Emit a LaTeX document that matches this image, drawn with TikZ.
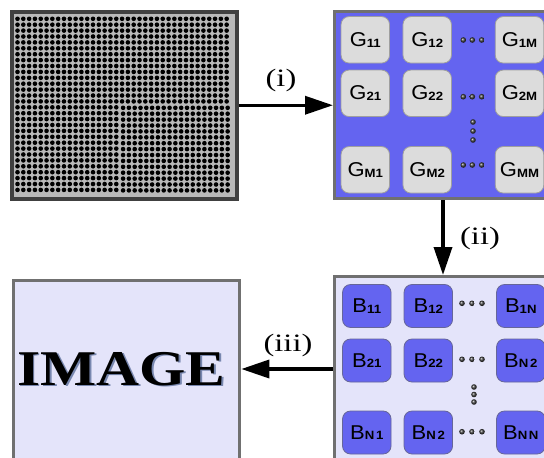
\documentclass[tikz,border=0pt]{standalone}
\usepackage{fontspec}
\usepackage{graphicx}
\setmainfont{Liberation Serif}
\newfontfamily\arialfont{Liberation Sans}
\usetikzlibrary{arrows.meta,shadings}

\definecolor{panelblue}{RGB}{100,100,240}
\definecolor{lavender}{RGB}{228,228,250}
\definecolor{tilegray}{RGB}{220,220,220}
\definecolor{framegray}{RGB}{112,112,112}
\definecolor{gridgray}{RGB}{185,185,185}
\definecolor{griddark}{RGB}{64,64,64}
\definecolor{shadowblue}{RGB}{120,135,175}

% tile caption: large letter followed by a small bold index
\newcommand\tiletext[2]{\scalebox{1.1}[1]{\fontsize{20}{20}\selectfont #1\raisebox{-0.6pt}{\fontsize{12}{12}\selectfont\bfseries #2}}}

\tikzset{
  frame/.style={draw=framegray, line width=3pt, inner sep=0pt, anchor=north west},
  tile/.style={rounded corners=8pt, line width=0.8pt, minimum width=48.5pt, inner sep=0pt, font=\arialfont},
  gtile/.style={tile, draw=gray!75, fill=tilegray, minimum height=46.5pt},
  btile/.style={tile, draw=gray!80!blue, fill=panelblue, minimum height=43pt},
  flow/.style={-{Triangle[length=28pt,width=18pt]}, line width=3.5pt},
  steplabel/.style={inner sep=0pt},
  dot/.style={ball color=gray!45!black, draw=none},
}
\newcommand\steptext[1]{\scalebox{1.3}[1]{\fontsize{25}{25}\selectfont #1}}

\begin{document}
\begin{tikzpicture}[x=1pt, y=-1pt]
\useasboundingbox (0,0) rectangle (544,458);
\clip (0,0) rectangle (544,458);
\fill[white] (0,0) rectangle (544,458);

% ---- sensor array with dot grid ----
\node[draw=griddark, line width=3.5pt, fill=gridgray, inner sep=0pt, anchor=north west,
      minimum width=225pt, minimum height=187pt] (grid) at (10,10) {};
\begin{scope}
  \clip (13,13) rectangle (232,194);
  \foreach \i in {0,...,36}{
    \foreach \j in {0,...,29}{
      \pgfmathsetmacro\dx{(\i>17 && \j>14) ? 1 : 0}
      \pgfmathsetmacro\dy{(\i>17 && \j>14) ? 0.5 : 0}
      \fill[black] (17.5+\i*5.81+\dx, 18.8+\j*5.9+\dy) circle (2.3);
    }
  }
\end{scope}

% ---- grid of G tiles ----
\node[frame, fill=panelblue, minimum width=217pt, minimum height=187pt] (gpanel) at (333,10) {};
\node[gtile] (g11) at (365.3,39.8) {\tiletext{G}{11}};
\node[gtile] (g12) at (427.2,39.8) {\tiletext{G}{12}};
\node[gtile] (g1m) at (519.5,39.8) {\tiletext{G}{1M}};
\node[gtile] (g21) at (365.3,93.3) {\tiletext{G}{21}};
\node[gtile] (g22) at (427.2,93.3) {\tiletext{G}{22}};
\node[gtile] (g2m) at (519.5,93.3) {\tiletext{G}{2M}};
\node[gtile] (gm1) at (365.3,169.8) {\tiletext{G}{M1}};
\node[gtile] (gm2) at (427.2,169.8) {\tiletext{G}{M2}};
\node[gtile] (gmm) at (519.5,169.8) {\tiletext{G}{MM}};
\foreach \y in {40,96.7,165}{
  \foreach \x in {463.3,472.3,481.7}{\shade[dot] (\x,\y) circle (2.8);}
}
\foreach \y in {122,131,140}{\shade[dot] (473,\y) circle (2.8);}

% ---- grid of B tiles ----
\node[frame, fill=lavender, minimum width=217pt, minimum height=200pt] (bpanel) at (333,275) {};
\node[btile] (b11) at (366.8,306) {\tiletext{B}{11}};
\node[btile] (b12) at (428.3,306) {\tiletext{B}{12}};
\node[btile] (b1n) at (520.8,306) {\tiletext{B}{1N}};
\node[btile] (b21) at (366.8,360.5) {\tiletext{B}{21}};
\node[btile] (b22) at (428.3,360.5) {\tiletext{B}{22}};
\node[btile] (bn2a) at (520.8,360.5) {\tiletext{B}{N\hspace{1.5pt}2}};
\node[btile] (bn1) at (366.8,432.5) {\tiletext{B}{N\hspace{1.5pt}1}};
\node[btile] (bn2) at (428.3,432.5) {\tiletext{B}{N\hspace{1.5pt}2}};
\node[btile] (bnn) at (520.8,432.5) {\tiletext{B}{N\hspace{1.5pt}N}};
\foreach \y in {303.3,359.3,431.7}{
  \foreach \x in {462,472,482}{\shade[dot] (\x,\y) circle (2.8);}
}
\foreach \y in {387,394.5,402}{\shade[dot] (474,\y) circle (2.8);}

% ---- reconstructed image ----
\node[frame, fill=lavender, minimum width=226.6pt, minimum height=200pt] (imgbox) at (11.7,279) {};
\node[text=shadowblue] (imgshadow) at (123,370.5)
  {\scalebox{1.19}[1]{\fontsize{50}{50}\selectfont\bfseries IMAGE}};
\node (imgtext) at (121.5,369)
  {\scalebox{1.19}[1]{\fontsize{50}{50}\selectfont\bfseries IMAGE}};

% ---- processing steps ----
\draw[flow] (grid.east) -- (grid.east -| gpanel.west);
\draw[flow] (gpanel.south) -- (gpanel.south |- bpanel.north);
\draw[flow] (imgtext -| bpanel.west) -- (imgtext -| imgbox.east);
\node[steplabel] (li) at (281,80) {\steptext{(i)}};
\node[steplabel] (lii) at (480,238) {\steptext{(ii)}};
\node[steplabel] (liii) at (288,345) {\steptext{(iii)}};
\end{tikzpicture}
\end{document}
